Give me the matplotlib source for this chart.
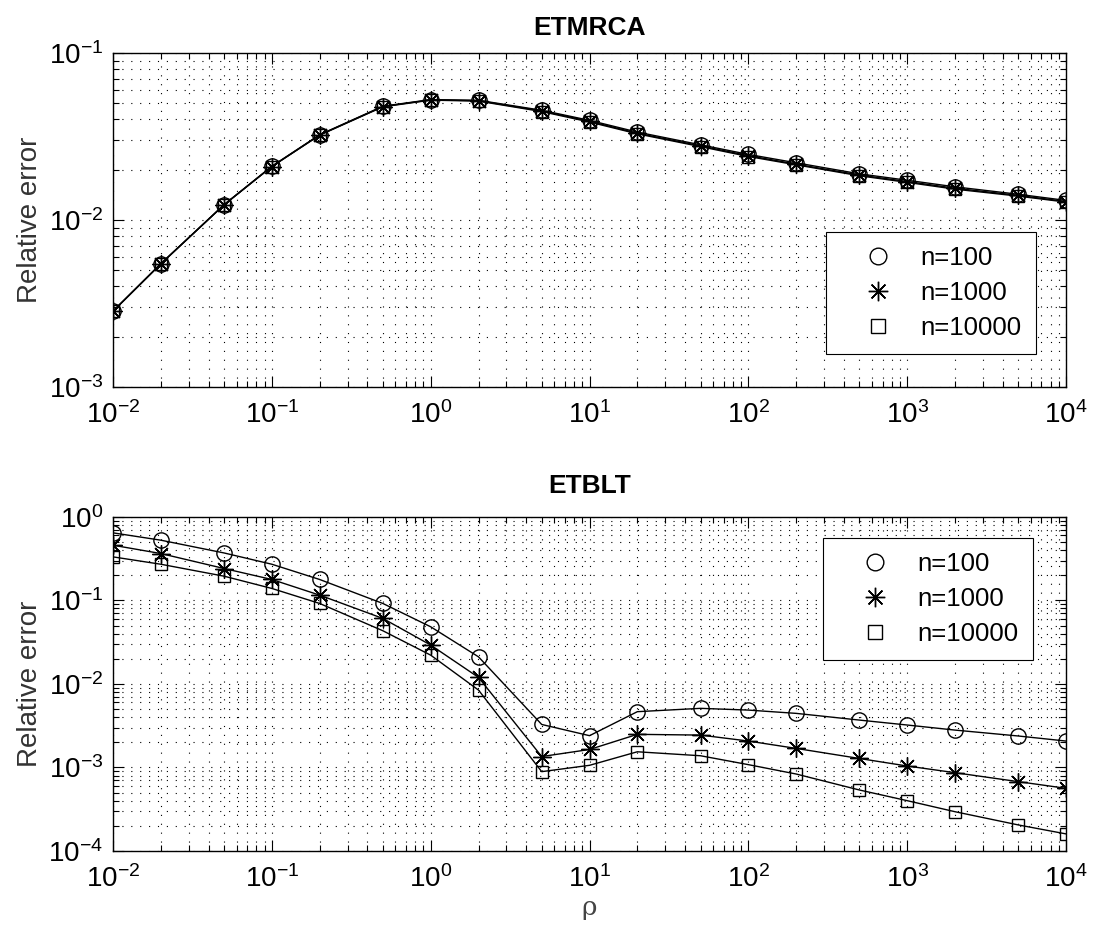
import matplotlib
matplotlib.use("Agg")
import matplotlib.pyplot as plt
from matplotlib.lines import Line2D
from matplotlib.ticker import FixedLocator, NullFormatter, LogFormatterSciNotation

plt.rcParams['font.family'] = ['Liberation Sans', 'DejaVu Sans']
plt.rcParams['mathtext.fontset'] = 'custom'
plt.rcParams['mathtext.rm'] = 'Liberation Sans'
plt.rcParams['mathtext.it'] = 'Liberation Sans:italic'

rho = [0.01, 0.02, 0.05, 0.1, 0.2, 0.5, 1, 2, 5, 10, 20, 50, 100, 200, 500,
       1000, 2000, 5000, 10000]

labels = ["n=100", "n=1000", "n=10000"]

# ETMRCA relative error
etmrca_n100 = [0.00285, 0.00548, 0.01236, 0.0210, 0.0324, 0.0480, 0.0526, 0.0521,
               0.0454, 0.0395, 0.0336, 0.0282, 0.0247, 0.0220, 0.0189, 0.0173,
               0.0158, 0.01426, 0.0131]
etmrca_n1000 = [0.00285, 0.00547, 0.01234, 0.0209, 0.0323, 0.0478, 0.0524, 0.0518,
                0.0450, 0.0390, 0.0331, 0.0278, 0.0243, 0.0216, 0.0186, 0.0170,
                0.0155, 0.01405, 0.0129]
etmrca_n10000 = [0.00284, 0.00546, 0.01232, 0.0209, 0.0322, 0.0476, 0.0522, 0.0515,
                 0.0446, 0.0386, 0.0328, 0.0275, 0.0240, 0.0214, 0.0184, 0.0168,
                 0.0153, 0.0139, 0.0128]

# ETBLT relative error
etblt_n100 = [0.644, 0.526, 0.370, 0.271, 0.178, 0.0919, 0.0483, 0.0211, 0.00327,
              0.0024, 0.00465, 0.0051, 0.00486, 0.00444, 0.00369, 0.00322,
              0.00280, 0.00238, 0.00207]
etblt_n1000 = [0.458, 0.364, 0.241, 0.178, 0.1156, 0.0608, 0.0292, 0.01197, 0.00135,
               0.00164, 0.00249, 0.00244, 0.00207, 0.00169, 0.00128, 0.00104,
               0.000865, 0.000676, 0.000562]
etblt_n10000 = [0.332, 0.271, 0.195, 0.139, 0.0919, 0.0433, 0.0221, 0.00844, 0.00089,
                0.00106, 0.00154, 0.00138, 0.00108, 0.000834, 0.000537, 0.000400,
                0.000295, 0.000205, 0.000160]

ASTERISK = (8, 2, 0)
markers = ['o', ASTERISK, 's']
msizes = [11, 13, 8.5]

fig = plt.figure(figsize=(11.05, 9.41), dpi=100)
ax1 = fig.add_axes([0.1023, 0.5887, 0.8624, 0.355])
ax2 = fig.add_axes([0.1023, 0.0957, 0.8624, 0.355])


def decade_ticks(lo, hi):
    major = [10.0 ** e for e in range(lo, hi + 1)]
    minor = [k * 10.0 ** e for e in range(lo, hi) for k in range(2, 10)]
    return major, minor


def style(ax, xexp, yexp):
    ax.set_xscale('log')
    ax.set_yscale('log')
    ax.set_xlim(10.0 ** xexp[0], 10.0 ** xexp[1])
    ax.set_ylim(10.0 ** yexp[0], 10.0 ** yexp[1])
    xmaj, xmin = decade_ticks(*xexp)
    ymaj, ymin = decade_ticks(*yexp)
    ax.xaxis.set_major_locator(FixedLocator(xmaj))
    ax.xaxis.set_minor_locator(FixedLocator(xmin))
    ax.yaxis.set_major_locator(FixedLocator(ymaj))
    ax.yaxis.set_minor_locator(FixedLocator(ymin))
    ax.xaxis.set_major_formatter(LogFormatterSciNotation())
    ax.yaxis.set_major_formatter(LogFormatterSciNotation())
    ax.xaxis.set_minor_formatter(NullFormatter())
    ax.yaxis.set_minor_formatter(NullFormatter())
    ax.grid(True, which='both', color='black', linestyle=(0, (1, 7)), linewidth=0.8)
    ax.tick_params(which='both', direction='in', top=True, right=True,
                   labelsize=20, color='black', width=0.8)
    ax.tick_params(which='major', length=8)
    ax.tick_params(axis='x', which='major', pad=10)
    ax.tick_params(axis='y', which='major', pad=7)
    ax.tick_params(which='minor', length=4.5)
    for s in ax.spines.values():
        s.set_linewidth(1.0)
    ax.set_ylabel('Relative error', fontsize=20, color='#333333')
    ax.yaxis.set_label_coords(-0.074, 0.5)


def draw(ax, series):
    for y, m, ms in zip(series, markers, msizes):
        ax.plot(rho, y, color='black', linewidth=1.0, marker=m, markersize=ms,
                markerfacecolor='none', markeredgecolor='black', markeredgewidth=1.0)


def legend(ax, loc, bbox):
    handles = [Line2D([], [], linestyle='none', marker=m, markersize=ms,
                      markerfacecolor='none', markeredgecolor='black',
                      markeredgewidth=1.0)
               for m, ms in zip(markers, [12, 14, 10])]
    lg = ax.legend(handles, labels, loc=loc, bbox_to_anchor=bbox, fontsize=18.5,
                   frameon=True, fancybox=False, edgecolor='black',
                   framealpha=1.0, handletextpad=0.15, borderpad=0.55,
                   labelspacing=0.42, handlelength=3.0, borderaxespad=0.0)
    lg.get_frame().set_linewidth(0.8)


draw(ax1, [etmrca_n100, etmrca_n1000, etmrca_n10000])
style(ax1, (-2, 4), (-3, -1))
ax1.set_title('ETMRCA', fontsize=19, fontweight='bold', pad=13)
legend(ax1, 'lower right', (0.9685, 0.0988))

draw(ax2, [etblt_n100, etblt_n1000, etblt_n10000])
style(ax2, (-2, 4), (-4, 0))
ax2.set_title('ETBLT', fontsize=19, fontweight='bold', pad=17)
legend(ax2, 'upper right', (0.9654, 0.937))
ax2.set_xlabel('ρ', fontsize=19, color='#444444', family=['DejaVu Serif'], labelpad=2)

fig.savefig('out.png', dpi=100)
